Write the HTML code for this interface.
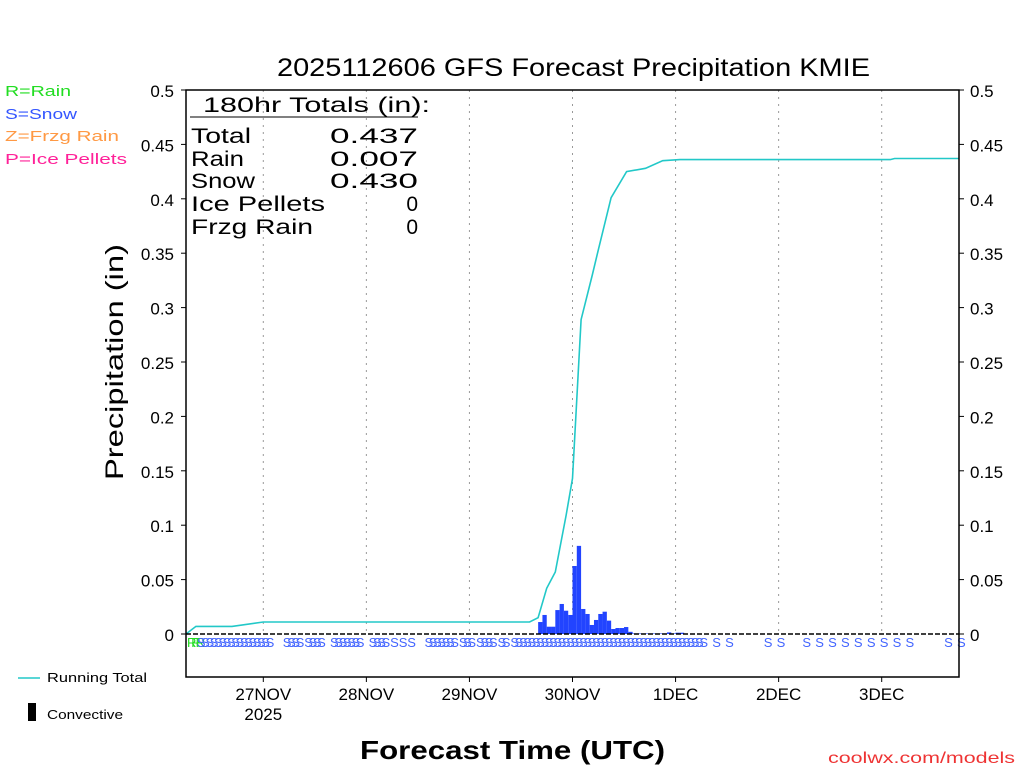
<!DOCTYPE html>
<html><head><meta charset="utf-8"><style>
html,body{margin:0;padding:0;background:#fff;}
svg{display:block;font-family:"Liberation Sans",sans-serif;}
</style></head><body>
<svg id="chart" width="1024" height="768" viewBox="0 0 1024 768" xmlns="http://www.w3.org/2000/svg">
<text x="277" y="76" font-size="25" textLength="593" lengthAdjust="spacingAndGlyphs" fill="#000">2025112606 GFS Forecast Precipitation KMIE</text>
<g font-size="15">
<text x="5" y="96" fill="#22dd22" textLength="66" lengthAdjust="spacingAndGlyphs">R=Rain</text>
<text x="5" y="119" fill="#3355ff" textLength="72" lengthAdjust="spacingAndGlyphs">S=Snow</text>
<text x="5" y="141" fill="#ff9944" textLength="114" lengthAdjust="spacingAndGlyphs">Z=Frzg Rain</text>
<text x="5" y="164" fill="#ff2299" textLength="122" lengthAdjust="spacingAndGlyphs">P=Ice Pellets</text>
</g>
<text transform="translate(123,362) rotate(-90)" x="-118" y="0" font-size="25" textLength="236" lengthAdjust="spacingAndGlyphs">Precipitation (in)</text>
<text x="360" y="759" font-size="26" font-weight="bold" textLength="305" lengthAdjust="spacingAndGlyphs">Forecast Time (UTC)</text>
<text x="828" y="763" font-size="16" fill="#ee3333" textLength="187" lengthAdjust="spacingAndGlyphs">coolwx.com/models</text>
<g font-size="13">
<line x1="18" y1="678" x2="40" y2="678" stroke="#22c8c8" stroke-width="1.5"/>
<text x="47" y="682" textLength="100" lengthAdjust="spacingAndGlyphs">Running Total</text>
<rect x="28" y="703" width="8" height="18" fill="#000"/>
<text x="47" y="719" textLength="76" lengthAdjust="spacingAndGlyphs">Convective</text>
</g>
<g id="grid"></g>
<g id="bars"></g>
<g id="line"></g>
<g id="types"></g>
<g id="axes"></g>
<g font-size="21" fill="#000">
<text x="203" y="112" textLength="227" lengthAdjust="spacingAndGlyphs">180hr Totals (in):</text>
<line x1="190" y1="117" x2="418" y2="117" stroke="#000" stroke-width="1"/>
<text x="191" y="143" textLength="60" lengthAdjust="spacingAndGlyphs">Total</text><text x="330" y="143" textLength="88" lengthAdjust="spacingAndGlyphs">0.437</text>
<text x="191" y="166" textLength="53" lengthAdjust="spacingAndGlyphs">Rain</text><text x="330" y="166" textLength="88" lengthAdjust="spacingAndGlyphs">0.007</text>
<text x="191" y="188" textLength="64" lengthAdjust="spacingAndGlyphs">Snow</text><text x="330" y="188" textLength="88" lengthAdjust="spacingAndGlyphs">0.430</text>
<text x="191" y="211" textLength="134" lengthAdjust="spacingAndGlyphs">Ice Pellets</text><text x="418" y="211" text-anchor="end">0</text>
<text x="191" y="234" textLength="122" lengthAdjust="spacingAndGlyphs">Frzg Rain</text><text x="418" y="234" text-anchor="end">0</text>
</g>
</svg>
<script>
const yTicks = [0,0.05,0.1,0.15,0.2,0.25,0.3,0.35,0.4,0.45,0.5];
const yTickLabels = ["0","0.05","0.1","0.15","0.2","0.25","0.3","0.35","0.4","0.45","0.5"];
const dayHours = [18,42,66,90,114,138,162];
const dayLabels = ["27NOV","28NOV","29NOV","30NOV","1DEC","2DEC","3DEC"];
const barStartHour = 82;
const barValues = [0.011,0.0175,0.0067,0.0067,0.022,0.0276,0.0214,0.0175,0.0625,0.081,0.023,0.0184,0.0083,0.0129,0.0184,0.0205,0.0123,0.0046,0.0055,0.0055,0.0064,0.002,0.0005,0.0005,0.0005,0.0005,0.0005,0.0005,0.0005,0.0005,0.0015,0.0005,0.0012,0.0012];
const totalHours = [0,2.3,10.7,18,80,82,84,86,88.5,90,92,94.6,96,99,102.6,107,111,115,164,165,180];
const totalValues = [0,0.007,0.007,0.011,0.011,0.015,0.042,0.057,0.109,0.143,0.289,0.33,0.353,0.401,0.425,0.428,0.435,0.436,0.436,0.437,0.437];
const rainHours = [0,1,2];
const snowHours = [3,4,5,6,7,8,9,10,11,12,13,14,15,16,17,18,19,23,24,25,26,28,29,30,31,34,35,36,37,38,39,40,43,44,45,46,48,50,52,56,57,58,59,60,61,62,64,65,66,68,69,70,71,73,74,76,77,78,79,80,81,82,83,84,85,86,87,88,89,90,91,92,93,94,95,96,97,98,99,100,101,102,103,104,105,106,107,108,109,110,111,112,113,114,115,116,117,118,119,120,123,126,135,138,144,147,150,153,156,159,162,165,168,177,180];

const X0=186, X1=959, Y0=634, Y1=90, HMAX=180;
const xs = h => X0 + (X1-X0)*h/HMAX;
const ys = v => Y0 - (Y0-Y1)*v/0.5;
const NS="http://www.w3.org/2000/svg";
function mk(tag, attrs, parent){const e=document.createElementNS(NS,tag);for(const k in attrs)e.setAttribute(k,attrs[k]);parent.appendChild(e);return e;}
const grid=document.getElementById('grid'), bars=document.getElementById('bars'), line=document.getElementById('line'), types=document.getElementById('types'), axes=document.getElementById('axes');

dayHours.forEach((h,i)=>{
  const g=mk('line',{x1:xs(h),x2:xs(h),y1:Y1,y2:Y0,stroke:'#999','stroke-dasharray':'2,5'},grid);
  
  
  const t=mk('text',{x:xs(h),y:700,'font-size':17,'text-anchor':'middle'},axes);
  t.textContent=dayLabels[i];
  
  
  mk('line',{x1:xs(h),x2:xs(h),y1:677,y2:682,stroke:'#000'},axes);
});
const yr=mk('text',{x:xs(dayHours[0]),y:720,'font-size':17,'text-anchor':'middle'},axes);
yr.textContent='2025';



barValues.forEach((v,i)=>{
  const h=barStartHour+i;
  const r=mk('rect',{x:xs(h),y:ys(v),width:xs(h+1)-xs(h),height:Y0-ys(v),fill:'#2244ff'},bars);
  
  
});

const pts=totalHours.map((h,i)=>xs(h).toFixed(1)+','+ys(totalValues[i]).toFixed(1)).join(' ');
const pl=mk('polyline',{points:pts,fill:'none',stroke:'#22c8c8','stroke-width':1.6},line);



rainHours.forEach(h=>{
  const t=mk('text',{x:xs(h)+1,y:647,'font-size':13,fill:'#22dd22'},types);
  t.textContent='R';
  
  
});
snowHours.forEach(h=>{
  const t=mk('text',{x:xs(h)-2,y:647,'font-size':13,fill:'#4466ff'},types);
  t.textContent='S';
  
  
});

const fr=mk('rect',{x:X0,y:Y1,width:X1-X0,height:677-Y1,fill:'none',stroke:'#000','stroke-width':1.5},axes);


const zl=mk('line',{x1:X0,x2:X1,y1:Y0,y2:Y0,stroke:'#000','stroke-width':1.5,'stroke-dasharray':'5,2'},axes);


yTicks.forEach((v,i)=>{
  mk('line',{x1:X0-5,x2:X0,y1:ys(v),y2:ys(v),stroke:'#000'},axes);
  mk('line',{x1:X1,x2:X1+5,y1:ys(v),y2:ys(v),stroke:'#000'},axes);
  const a=mk('text',{x:174,y:ys(v)+7,'font-size':17,'text-anchor':'end'},axes);
  a.textContent=yTickLabels[i];
  
  
  const b=mk('text',{x:970,y:ys(v)+7,'font-size':17},axes);
  b.textContent=yTickLabels[i];
  
  
});
</script>
</body></html>
